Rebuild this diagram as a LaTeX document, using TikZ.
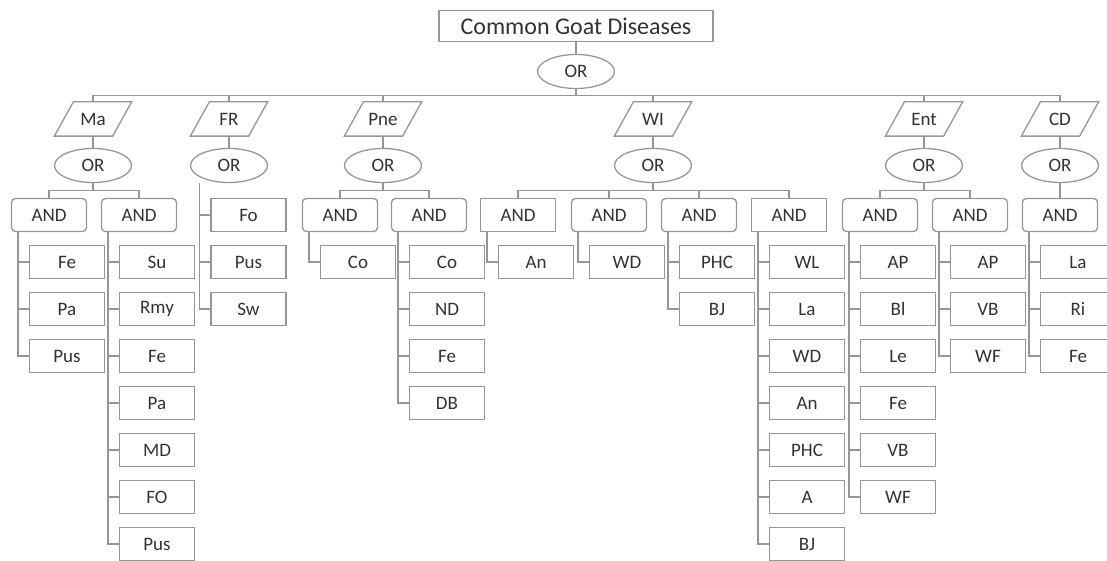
\documentclass[tikz,border=0pt]{standalone}
\usepackage{fontspec}
\setmainfont{Carlito}
\usetikzlibrary{shapes.geometric}
\definecolor{linegray}{RGB}{150,150,150}
\definecolor{textgray}{RGB}{50,50,50}
\tikzset{
  conn/.style={draw=linegray, line width=1.3pt},
  base/.style={draw=linegray, line width=1.3pt, text=textgray, inner sep=0pt,
    font=\fontsize{19}{21}\selectfont},
  titlebox/.style={base, rectangle, minimum width=274pt, minimum height=31pt,
    font=\fontsize{24}{26}\selectfont},
  orel/.style={base, ellipse, minimum width=77pt, minimum height=34pt},
  cat/.style={base, draw=none, rectangle, minimum width=57pt, minimum height=33pt,
    append after command={
      \pgfextra{\let\catnode\tikzlastnode}
      ([xshift=-9.5pt]\catnode.south west) -- ([xshift=-9.5pt]\catnode.south east)
      -- ([xshift=9.5pt]\catnode.north east) -- ([xshift=9.5pt]\catnode.north west) -- cycle
    }},
  andbox/.style={base, rectangle, rounded corners=4pt, minimum width=75pt, minimum height=33pt},
  andsq/.style={base, rectangle, minimum width=75pt, minimum height=33pt},
  leaf/.style={base, rectangle, minimum width=75pt, minimum height=33pt},
}
\newcommand\leafcol[3]{% name, leaf x, leaves
  \foreach \lab [count=\i] in {#3} {
    \node[leaf] (#1-\i) at (#2,{215+47*\i}) {\lab};
    \draw[conn] (#1t |- #1-\i.west) -- (#1-\i.west);
    \xdef\lastidx{\i}
  }
  \draw[conn] (#1t) |- (#1-\lastidx.west);
}
\newcommand\andgroup[4][andbox]{% style, name, left x, leaves
  \node[#1] (#2) at ({#3+38},215) {AND};
  \coordinate (#2t) at ([xshift=7pt]#2.south west);
  \leafcol{#2}{#3+56}{#4}
}
\begin{document}
\begin{tikzpicture}[x=1pt,y=-1pt]
\useasboundingbox (0,0) rectangle (1107,561);
% top
\node[titlebox] (title) at (576,26) {Common Goat Diseases};
\node[orel] (topor) at (576,71.5) {OR};
\draw[conn] (title) -- (topor);
\coordinate (tb) at (576,95.5);
% categories (parallelograms)
\draw[conn] node[cat] (ma) at (93,119) {Ma};
\draw[conn] node[cat] (fr) at (229,119) {FR};
\draw[conn] node[cat] (pne) at (383,119) {Pne};
\draw[conn] node[cat] (wi) at (653,119) {WI};
\draw[conn] node[cat] (ent) at (924,119) {Ent};
\draw[conn] node[cat] (cd) at (1060,119) {CD};
\draw[conn] (topor) -- (tb);
\draw[conn] (ma.north) |- (tb) -| (cd.north);
\foreach \c in {fr,pne,wi,ent} { \draw[conn] (\c.north) -- (\c.north |- tb); }
% OR nodes
\foreach \c/\x in {ma/93,fr/229,pne/383,wi/653,ent/924,cd/1060} {
  \node[orel] (\c or) at (\x,165.5) {OR};
  \draw[conn] (\c.south) -- (\c or);
}
% AND groups
\andgroup{maA}{11}{Fe,Pa,Pus}
\andgroup{maB}{101}{Su,Rmy,Fe,Pa,MD,FO,Pus}
\andgroup{pneA}{302}{Co}
\andgroup{pneB}{391}{Co,ND,Fe,DB}
\andgroup[andsq]{wiA}{480}{An}
\andgroup{wiB}{571}{WD}
\andgroup{wiC}{661}{PHC,BJ}
\andgroup[andsq]{wiD}{751}{WL,La,WD,An,PHC,A,BJ}
\andgroup{entA}{842}{AP,Bl,Le,Fe,VB,WF}
\andgroup{entB}{932}{AP,VB,WF}
\andgroup{cdA}{1022}{La,Ri,Fe}
% FR leaves (directly under OR)
\coordinate (frt) at (199.5,183);
\foreach \lab [count=\i] in {Fo,Pus,Sw} {
  \node[leaf] (fr-\i) at (248.5,{215+47*(\i-1)}) {\lab};
  \draw[conn] (frt |- fr-\i.west) -- (fr-\i.west);
}
\draw[conn] (frt) |- (fr-3.west);
% buses under OR
\coordinate (mab) at (93,190.5);
\draw[conn] (maor) -- (mab);
\draw[conn] (maA.north) |- (mab) -| (maB.north);
\coordinate (pneb) at (383,190.5);
\draw[conn] (pneor) -- (pneb);
\draw[conn] (pneA.north) |- (pneb) -| (pneB.north);
\coordinate (wib) at (653,190.5);
\draw[conn] (wior) -- (wib);
\draw[conn] (wiA.north) |- (wib) -| (wiD.north);
\draw[conn] (wiB.north) -- (wiB.north |- wib);
\draw[conn] (wiC.north) -- (wiC.north |- wib);
\coordinate (entb) at (924,190.5);
\draw[conn] (entor) -- (entb);
\draw[conn] (entA.north) |- (entb) -| (entB.north);
\draw[conn] (cdor) -- (cdA);
\end{tikzpicture}
\end{document}
